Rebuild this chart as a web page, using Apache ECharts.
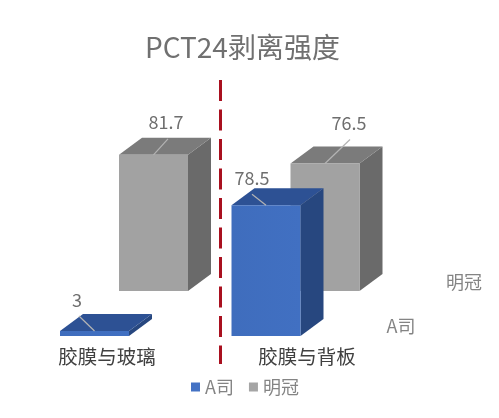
<!DOCTYPE html>
<html>
<head>
<meta charset="utf-8">
<style>html,body{margin:0;padding:0;background:#fff}#c{width:499px;height:418px}</style>
<script src="https://cdn.jsdelivr.net/npm/echarts@6/dist/echarts.min.js"></script>
</head>
<body>
<div id="c"></div>
<script>
const titleText = 'PCT24剥离强度';
const categories = ['胶膜与玻璃', '胶膜与背板'];
const seriesNames = ['A司', '明冠'];
const valuesA = [3, 78.5];
const valuesB = [81.7, 76.5];

const FONT = '"Noto Sans CJK SC", "Noto Sans", sans-serif';
const BAR_W = 69, DEPTH_X = 23, DEPTH_Y = 17;

function makeRenderer(cfg) {
  return function (params, api) {
    const i = api.value(0), v = api.value(1);
    const base = api.coord([i, 0]);
    const top = api.coord([i, v]);
    const cx = base[0] + cfg.rowX, by = base[1] + cfg.rowY, ty = top[1] + cfg.rowY;
    const l = cx - BAR_W / 2, r = cx + BAR_W / 2;
    const lead = cfg.leader[i], lab = cfg.label[i];
    return {
      type: 'group',
      children: [
        { type: 'polygon', shape: { points: [[r, ty], [r + DEPTH_X, ty - DEPTH_Y], [r + DEPTH_X, by - DEPTH_Y], [r, by]] }, style: { fill: cfg.side } },
        { type: 'polygon', shape: { points: [[l, ty], [l + DEPTH_X, ty - DEPTH_Y], [r + DEPTH_X, ty - DEPTH_Y], [r, ty]] }, style: { fill: cfg.topFace } },
        { type: 'rect', shape: { x: l, y: ty, width: BAR_W, height: by - ty }, style: { fill: cfg.front } },
        { type: 'line', shape: { x1: cx, y1: ty, x2: cx + lead[0], y2: ty + lead[1] }, style: { stroke: '#b4b4b4', lineWidth: 1.2 } },
        { type: 'text', style: { text: String(v), x: cx + lab[0], y: ty + lab[1], align: 'center', verticalAlign: 'middle', fill: '#6e6e6e', font: '18px ' + FONT } }
      ]
    };
  };
}

const option = {
  backgroundColor: '#ffffff',
  animation: false,
  title: { text: titleText, left: 140, top: 28, textStyle: { color: '#707070', fontSize: 28, fontWeight: 'normal', fontFamily: FONT } },
  legend: {
    data: seriesNames, left: 186, top: 373, icon: 'rect', itemWidth: 9, itemHeight: 9, itemGap: 15,
    textStyle: { color: '#848484', fontSize: 18, fontFamily: FONT }
  },
  grid: [
    { left: 8.75, width: 343, top: 136, height: 200 },
    { left: 7, width: 400, top: 136, height: 200 }
  ],
  xAxis: [
    { type: 'category', gridIndex: 0, data: categories, show: false },
    { type: 'category', gridIndex: 1, data: categories, axisLine: { show: false }, axisTick: { show: false },
      axisLabel: { color: '#404040', fontSize: 19.5, margin: 11, fontFamily: FONT } }
  ],
  yAxis: [
    { type: 'value', gridIndex: 0, min: 0, max: 120, show: false },
    { type: 'value', gridIndex: 1, min: 0, max: 120, show: false }
  ],
  graphic: [
    { type: 'line', shape: { x1: 220.5, y1: 80, x2: 220.5, y2: 364 }, style: { stroke: '#a9101f', lineWidth: 3, lineDash: [21, 8.5] }, z: 1 },
    { type: 'text', style: { text: seriesNames[1], x: 464, y: 282, align: 'center', verticalAlign: 'middle', fill: '#848484', font: '18px ' + FONT } },
    { type: 'text', style: { text: seriesNames[0], x: 401, y: 326, align: 'center', verticalAlign: 'middle', fill: '#848484', font: '18px ' + FONT } }
  ],
  series: [
    { name: seriesNames[1], type: 'custom', xAxisIndex: 0, yAxisIndex: 0, z: 2, clip: false,
      itemStyle: { color: '#a5a5a5' }, encode: { x: 0, y: 1 },
      data: valuesB.map((v, i) => [i, v]),
      renderItem: makeRenderer({ rowX: 59, rowY: -45, front: '#a2a2a2', side: '#6a6a6a', topFace: '#7b7b7b',
        leader: [[14.5, -16], [25, -24]], label: [[12.5, -33], [24, -40]] }) },
    { name: seriesNames[0], type: 'custom', xAxisIndex: 0, yAxisIndex: 0, z: 3, clip: false,
      itemStyle: { color: '#4472c4' }, encode: { x: 0, y: 1 },
      data: valuesA.map((v, i) => [i, v]),
      renderItem: makeRenderer({ rowX: 0, rowY: 0,
        front: { type: 'linear', x: 0, y: 0, x2: 1, y2: 0, colorStops: [{ offset: 0, color: '#3f6dbd' }, { offset: 1, color: '#4170c2' }] },
        side: '#27477f', topFace: '#2d5194',
        leader: [[-15.5, -15], [-14, -11]], label: [[-17.5, -31], [-14, -27]] }) },
    { type: 'custom', xAxisIndex: 1, yAxisIndex: 1, data: [], renderItem: function () { return null; } }
  ]
};

const chart = echarts.init(document.getElementById('c'), null, { renderer: 'canvas' });
chart.setOption(option);
</script>
</body>
</html>
